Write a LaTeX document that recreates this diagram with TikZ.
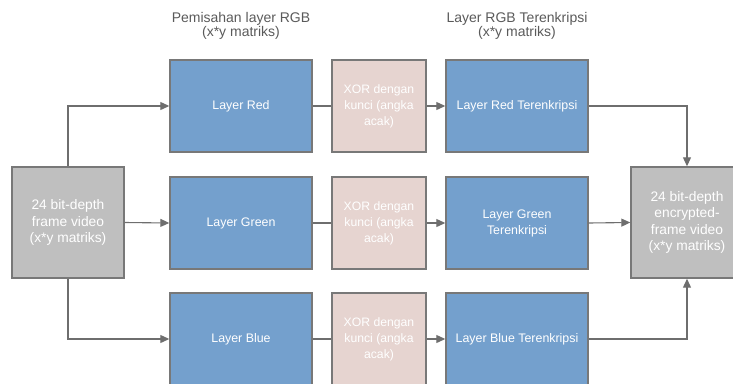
\documentclass[tikz,border=0pt]{standalone}
\usepackage{fontspec}
\setmainfont{Liberation Sans}
\usetikzlibrary{arrows.meta}

\definecolor{lineGray}{RGB}{110,110,110}
\definecolor{edgeGray}{RGB}{120,120,120}
\definecolor{layerBlue}{RGB}{116,160,205}
\definecolor{xorPink}{RGB}{230,212,208}
\definecolor{frameGray}{RGB}{191,191,191}
\definecolor{titleGray}{RGB}{90,90,90}

\tikzset{
  layerbox/.style={draw=edgeGray, line width=1.4pt, fill=layerBlue, text=white,
    minimum width=142pt, minimum height=92pt, align=center, inner sep=2pt, font=\fontsize{12.4}{16}\selectfont},
  xorbox/.style={draw=edgeGray, line width=1.4pt, fill=xorPink, text=white,
    minimum width=94pt, minimum height=92pt, align=center, inner sep=2pt, font=\fontsize{12.2}{16}\selectfont},
  framebox/.style={draw=edgeGray, line width=1.4pt, fill=frameGray, text=white,
    minimum width=112pt, minimum height=111pt, align=center, inner sep=2pt, font=\fontsize{13.8}{16.5}\selectfont},
  title/.style={text=titleGray, align=center, font=\fontsize{14}{14.5}\selectfont},
  arr/.style={draw=lineGray, line width=1.1pt, -{Triangle[length=9pt, width=8pt]}},
  link/.style={draw=lineGray, line width=1.1pt}
}

\begin{document}
\begin{tikzpicture}[x=1pt, y=-1pt]
\useasboundingbox (0,0) rectangle (733,383);
% judul kolom
\node[title] (tsplit) at (241, 26) {Pemisahan layer RGB\\(x*y matriks)};
\node[title] (tenc) at (517, 26) {Layer RGB Terenkripsi\\(x*y matriks)};
% frame masukan dan keluaran
\node[framebox] (src) at (68, 222.5) {24 bit-depth\\frame video\\(x*y matriks)};
\node[framebox] (dst) at (687, 222.5) {24 bit-depth\\encrypted-\\frame video\\(x*y matriks)};
% layer RGB
\node[layerbox] (red) at (241, 106) {Layer Red};
\node[layerbox] (green) at (241, 223) {Layer Green};
\node[layerbox] (blue) at (241, 339) {Layer Blue};
% XOR
\node[xorbox] (xr) at (379, 106) {XOR dengan\\kunci (angka\\acak)};
\node[xorbox] (xg) at (379, 223) {XOR dengan\\kunci (angka\\acak)};
\node[xorbox] (xb) at (379, 339) {XOR dengan\\kunci (angka\\acak)};
% layer terenkripsi
\node[layerbox] (ered) at (517, 106) {Layer Red Terenkripsi};
\node[layerbox] (egreen) at (517, 223) {Layer Green\\Terenkripsi};
\node[layerbox] (eblue) at (517, 339) {Layer Blue Terenkripsi};
% panah
\draw[arr] (src.north) |- (red.west);
\draw[arr] (src.east) -- (green.west);
\draw[arr] (src.south) |- (blue.west);
\draw[link] (red.east) -- (xr.west);
\draw[link] (green.east) -- (xg.west);
\draw[link] (blue.east) -- (xb.west);
\draw[arr] (xr.east) -- (ered.west);
\draw[arr] (xg.east) -- (egreen.west);
\draw[arr] (xb.east) -- (eblue.west);
\draw[arr] (ered.east) -| (dst.north);
\draw[arr] (egreen.east) -- (dst.west);
\draw[arr] (eblue.east) -| (dst.south);
\end{tikzpicture}
\end{document}
